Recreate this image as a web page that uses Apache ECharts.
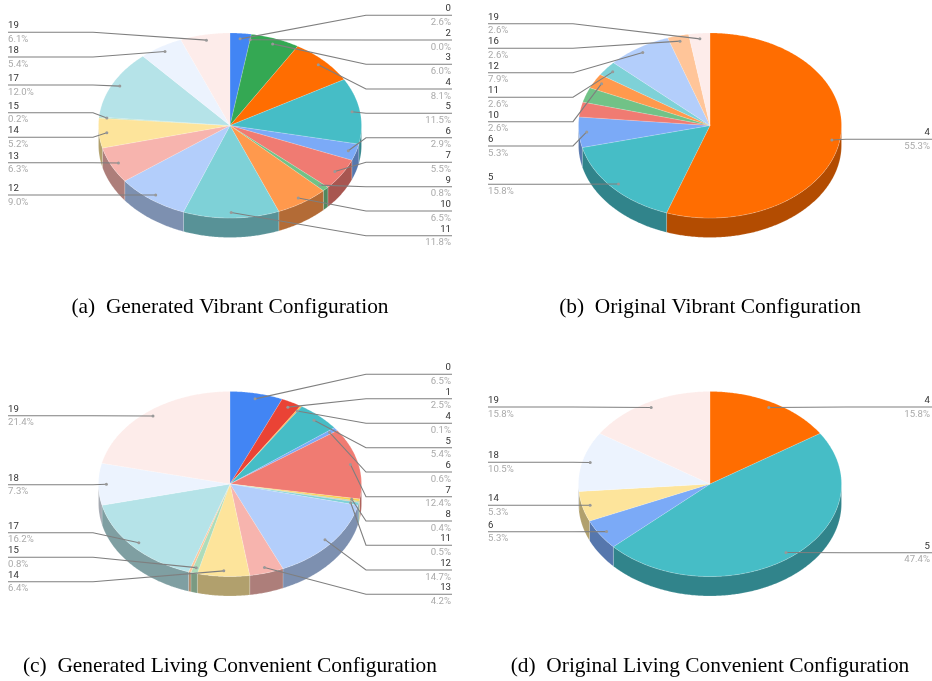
<!DOCTYPE html>
<html>
<head>
<meta charset="utf-8">
<title>Configuration pies</title>
<script src="https://cdn.jsdelivr.net/npm/echarts@6/dist/echarts.min.js"></script>
<style>
  html,body{margin:0;padding:0;background:#fff;}
  #main{width:932px;height:681px;}
</style>
</head>
<body>
<div id="main"></div>
<script>
// slice data, in drawing order (clockwise from 12 o'clock)
const aCats = [0, 2, 3, 4, 5, 6, 7, 9, 10, 11, 12, 13, 14, 15, 17, 18, 19];
const aVals = [2.6, 0.0, 6.0, 8.1, 11.5, 2.9, 5.5, 0.8, 6.5, 11.8, 9.0, 6.3, 5.2, 0.2, 12.0, 5.4, 6.1];

const bCats = [4, 5, 6, 7, 9, 10, 11, 12, 16, 19];
const bVals = [55.3, 15.8, 5.3, 2.6, 2.6, 2.6, 2.6, 7.9, 2.6, 2.6];

const cCats = [0, 1, 2, 4, 5, 6, 7, 8, 9, 10, 11, 12, 13, 14, 15, 16, 17, 18, 19];
const cVals = [6.5, 2.5, 0.1, 0.1, 5.4, 0.6, 12.4, 0.4, 0.1, 0.1, 0.5, 14.7, 4.2, 6.4, 0.8, 0.3, 16.2, 7.3, 21.4];

const dCats = [4, 5, 6, 14, 18, 19];
const dVals = [15.8, 47.4, 5.3, 5.3, 10.5, 15.8];

// categories that carry a label, and the height of their leader line
const aRight = {0: 15.3, 2: 40, 3: 64.3, 4: 89, 5: 113.3, 6: 137.7, 7: 162.3, 9: 186.7, 10: 211, 11: 235.7};
const aLeft = {19: 32.3, 18: 57, 17: 85, 15: 112.7, 14: 137.3, 13: 162.7, 12: 195};
const bRight = {4: 139.3};
const bLeft = {19: 23.7, 16: 48.3, 12: 72.7, 11: 97.3, 10: 121.7, 6: 146, 5: 184.3};
const cRight = {0: 374.3, 1: 398.7, 4: 423.3, 5: 447.7, 6: 472, 7: 496.7, 8: 521, 11: 545.3, 12: 570, 13: 594.3};
const cLeft = {19: 415.7, 18: 484.7, 17: 532.7, 15: 557.3, 14: 581.7};
const dRight = {4: 407, 5: 552.7};
const dLeft = {19: 407, 18: 462.3, 14: 505.3, 6: 531.7};

const captions = [
  '(a)\u2002Generated Vibrant Configuration',
  '(b)\u2002Original Vibrant Configuration',
  '(c)\u2002Generated Living Convenient Configuration',
  '(d)\u2002Original Living Convenient Configuration'
];

const palette = ['#4285f4', '#ea4335', '#fbbc04', '#34a853', '#ff6d01', '#46bdc6', '#7baaf7', '#f07b72', '#fcd04f', '#71c287',
  '#ff994d', '#7ed1d7', '#b3cefb', '#f7b4ae', '#fde49b', '#aedcba', '#ffc599', '#b5e3e8', '#ecf3fe', '#fdecea'];

const RX = 131.5, RY = 92.5, DEPTH = 19.5, ANCHOR = 0.94;
const TEXT_FONT = 'Roboto, Arial, sans-serif';

function darken(hex) {
  const n = parseInt(hex.slice(1), 16);
  const c = [n >> 16, (n >> 8) & 255, n & 255].map(v => Math.round(v * 0.7));
  return 'rgb(' + c.join(',') + ')';
}

function rim(cx, cy, t) {
  return [cx + RX * Math.sin(t), cy - RY * Math.cos(t)];
}

function arc(cx, cy, from, to) {
  const pts = [];
  const n = Math.max(1, Math.ceil((to - from) / 0.01));
  for (let i = 0; i <= n; i++) pts.push(rim(cx, cy, from + (to - from) * i / n));
  return pts;
}

// one panel = three custom series: walls, top face, leaders + labels
function panel(cats, vals, right, left, cx, cy, opt) {
  const total = vals.reduce((s, v) => s + v, 0);
  const starts = [];
  let run = 0;
  vals.forEach(v => { starts.push(run); run += v; });
  const angle = v => v / total * Math.PI * 2;
  const data = vals.map((v, i) => ({value: [cats[i], v, starts[i]]}));

  const wall = {
    type: 'custom', coordinateSystem: 'none', silent: true, z: 1, data: data,
    renderItem(params, api) {
      const from = Math.max(angle(api.value(2)), Math.PI / 2);
      const to = Math.min(angle(api.value(2) + api.value(1)), Math.PI * 1.5);
      if (to <= from) return {type: 'group', children: []};
      const edge = arc(cx, cy, from, to);
      const lower = edge.map(p => [p[0], p[1] + DEPTH]).reverse();
      return {
        type: 'polygon',
        shape: {points: edge.concat(lower)},
        style: {fill: darken(palette[api.value(0)]), stroke: 'rgba(255,255,255,0.35)', lineWidth: 0.5}
      };
    }
  };

  const top = {
    type: 'custom', coordinateSystem: 'none', silent: true, z: 2, data: data,
    renderItem(params, api) {
      const from = angle(api.value(2));
      const to = angle(api.value(2) + api.value(1));
      if (to <= from) return {type: 'group', children: []};
      return {
        type: 'polygon',
        shape: {points: [[cx, cy]].concat(arc(cx, cy, from, to))},
        style: {fill: palette[api.value(0)], stroke: 'rgba(255,255,255,0.4)', lineWidth: 0.4}
      };
    }
  };

  const leader = {
    type: 'custom', coordinateSystem: 'none', silent: true, z: 3, data: data,
    renderItem(params, api) {
      const id = api.value(0);
      const isRight = right[id] !== undefined;
      const y = isRight ? right[id] : left[id];
      if (y === undefined) return {type: 'group', children: []};
      const mid = angle(api.value(2) + api.value(1) / 2);
      const ax = cx + RX * ANCHOR * Math.sin(mid);
      const ay = cy - RY * ANCHOR * Math.cos(mid);
      const bend = isRight ? cx + 136 : cx - 137;
      const lineEnd = isRight ? opt.lineRight : opt.lineLeft;
      const textX = isRight ? opt.textRight : opt.textLeft;
      const align = isRight ? 'right' : 'left';
      return {
        type: 'group',
        children: [
          {type: 'polyline', shape: {points: [[ax, ay], [bend, y], [lineEnd, y]]},
            style: {fill: null, stroke: '#7f7f7f', lineWidth: 1.1}},
          {type: 'circle', shape: {cx: ax, cy: ay, r: 1.5}, style: {fill: '#999'}},
          {type: 'text', style: {x: textX, y: y - 6.6, text: String(id), fill: '#333',
            font: '9.6px ' + TEXT_FONT, textAlign: align, textVerticalAlign: 'middle'}},
          {type: 'text', style: {x: textX, y: y + 7.2, text: api.value(1).toFixed(1) + '%', fill: '#aaa',
            font: '9.6px ' + TEXT_FONT, textAlign: align, textVerticalAlign: 'middle'}}
        ]
      };
    }
  };
  return [wall, top, leader];
}

const leftCol = {lineLeft: 8, lineRight: 452, textLeft: 8, textRight: 451};
const rightCol = {lineLeft: 488, lineRight: 932, textLeft: 488, textRight: 930};

const captionPos = [[230, 297], [710, 297], [230, 656], [710, 656]];

const chart = echarts.init(document.getElementById('main'), null, {renderer: 'canvas'});
chart.setOption({
  animation: false,
  backgroundColor: '#fff',
  title: captions.map((text, i) => ({
    text: text,
    left: captionPos[i][0],
    top: captionPos[i][1],
    padding: 0,
    textAlign: 'center',
    textStyle: {fontFamily: '"Liberation Serif", serif', fontSize: 21.4, fontWeight: 'normal', color: '#000'}
  })),
  series: [].concat(
    panel(aCats, aVals, aRight, aLeft, 230, 125.5, leftCol),
    panel(bCats, bVals, bRight, bLeft, 710, 125.5, rightCol),
    panel(cCats, cVals, cRight, cLeft, 230, 484, leftCol),
    panel(dCats, dVals, dRight, dLeft, 710, 484, rightCol)
  )
});
</script>
</body>
</html>
